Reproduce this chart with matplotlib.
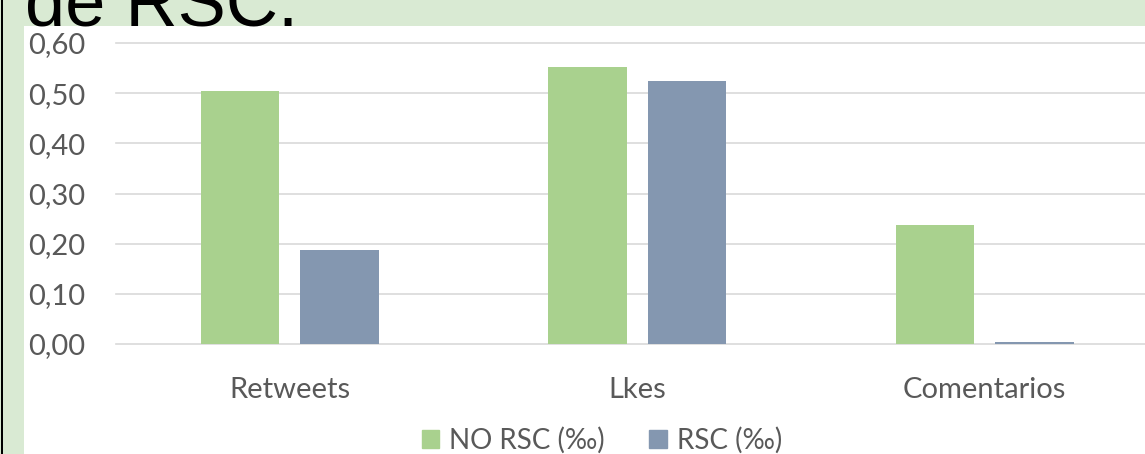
import matplotlib
matplotlib.use("Agg")
import matplotlib.pyplot as plt
from matplotlib.patches import Rectangle
import numpy as np

categories = ["Retweets", "Lkes", "Comentarios"]
no_rsc = [0.504, 0.552, 0.237]
rsc = [0.187, 0.524, 0.003]
yticks = [0.0, 0.1, 0.2, 0.3, 0.4, 0.5, 0.6]
ytick_labels = ["0,00", "0,10", "0,20", "0,30", "0,40", "0,50", "0,60"]
series_names = ["NO RSC (‰)", "RSC (‰)"]

W, H = 1145, 454
fig = plt.figure(figsize=(W / 100, H / 100), dpi=100)
fig.patch.set_facecolor("#D9EAD3")

# white chart area
fig.add_artist(Rectangle((24 / W, 0), 1 - 24 / W, 1 - 26 / H, transform=fig.transFigure,
                         facecolor="white", edgecolor="none", zorder=0))
# black left border line
fig.add_artist(Rectangle((1 / W, 0), 2 / W, 1, transform=fig.transFigure,
                         facecolor="black", edgecolor="none", zorder=1))

fig.text(25 / W, 1 - 25 / H, "de RSC.", fontsize=52, family="Liberation Sans",
         color="black", ha="left", va="baseline")

ax = fig.add_axes([116 / W, 1 - 344 / H, (1158.5 - 116) / W, (344 - 43) / H])
ax.set_facecolor("none")
x = np.arange(len(categories))
bw = 0.225
off = 0.143
green = "#A9D18E"
blue = "#8497B0"
ax.bar(x - off, no_rsc, width=bw, color=green, zorder=3, label=series_names[0])
ax.bar(x + off, rsc, width=bw, color=blue, zorder=3, label=series_names[1])

ax.set_xlim(-0.5, len(categories) - 0.5)
ax.set_ylim(0, 0.6)
ax.set_yticks(yticks)
ax.set_yticklabels(ytick_labels)
ax.set_xticks(x)
ax.set_xticklabels(categories)
for s in ax.spines.values():
    s.set_visible(False)
ax.grid(axis="y", color="#D9D9D9", linewidth=1.2, zorder=0)
for gl in ax.get_ygridlines():
    gl.set_clip_on(False)
ax.tick_params(axis="both", length=0, colors="#595959", labelsize=21)
ax.tick_params(axis="y", pad=22)
ax.tick_params(axis="x", pad=23.5)
for lbl in ax.get_xticklabels() + ax.get_yticklabels():
    lbl.set_family("Lato")

handles = [Rectangle((0, 0), 1, 1, color=green), Rectangle((0, 0), 1, 1, color=blue)]
fig.legend(handles, series_names, loc="center", bbox_to_anchor=(602 / W, 1 - 440 / H),
           ncol=2, frameon=False, prop={"family": "Lato", "size": 20},
           labelcolor="#595959", handlelength=0.62, handleheight=0.62,
           handletextpad=0.36, columnspacing=1.6, borderpad=0, borderaxespad=0)

fig.savefig("out.png", dpi=100, facecolor=fig.get_facecolor())
